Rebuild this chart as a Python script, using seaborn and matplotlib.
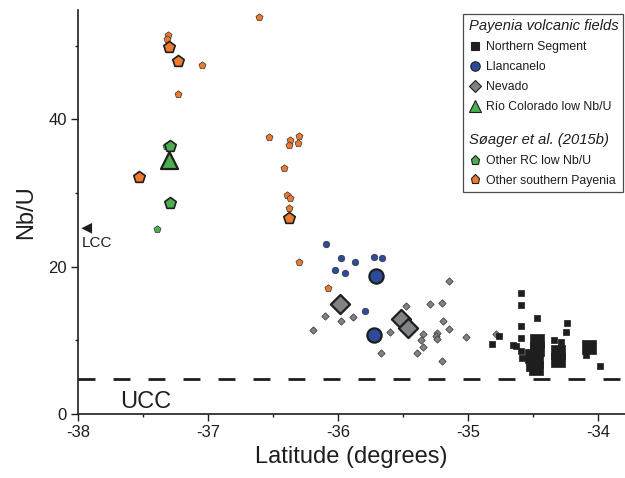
import matplotlib
matplotlib.use("Agg")
import matplotlib.pyplot as plt
import seaborn as sns
from matplotlib.lines import Line2D
from matplotlib.ticker import MultipleLocator

# ---------------- data (latitude, Nb/U) ----------------
south_small_lat = [-36.61, -37.31, -37.315, -37.05, -37.23, -36.53, -36.37, -36.30,
                   -36.38, -36.31, -36.415, -36.39, -36.37, -36.38, -36.30, -36.08]
south_small_nbu = [53.9, 51.4, 50.9, 47.4, 43.4, 37.6, 37.2, 37.7,
                   36.5, 36.8, 33.4, 29.7, 29.3, 28.0, 20.6, 17.1]
south_big_lat = [-37.30, -37.23, -37.53, -36.38]
south_big_nbu = [49.8, 47.9, 32.2, 26.6]

rc_small_lat = [-37.39, -37.325]
rc_small_nbu = [25.1, 36.4]
rc_big_lat = [-37.29, -37.29]
rc_big_nbu = [36.4, 28.6]

rio_lat = [-37.30]
rio_nbu = [34.5]

llan_small_lat = [-36.09, -35.98, -35.87, -35.72, -35.66, -36.02, -35.95, -35.79]
llan_small_nbu = [23.1, 21.2, 20.6, 21.3, 21.2, 19.5, 19.1, 14.0]
llan_big_lat = [-35.71, -35.72]
llan_big_nbu = [18.7, 10.7]

nev_small_lat = [-35.15, -35.48, -35.29, -35.20, -36.10, -35.98, -35.885, -36.19,
                 -35.19, -35.15, -35.60, -35.35, -35.24, -35.25, -35.36, -35.24,
                 -35.015, -35.35, -35.67, -35.39, -35.20, -34.785]
nev_small_nbu = [18.0, 14.7, 14.9, 15.1, 13.3, 12.6, 13.2, 11.4,
                 12.6, 11.5, 11.1, 10.9, 11.0, 10.6, 10.0, 10.2,
                 10.4, 9.1, 8.3, 8.3, 7.2, 10.9]
nev_big_lat = [-35.985, -35.515, -35.46]
nev_big_nbu = [14.9, 12.9, 11.7]

north_small_lat = [-34.59, -34.59, -34.47, -34.59, -34.24, -34.25, -34.59, -34.76,
                   -34.815, -34.34, -34.285, -34.63, -34.59, -34.585, -33.985,
                   -34.655, -34.09]
north_small_nbu = [16.4, 14.8, 13.0, 11.9, 12.3, 11.1, 10.3, 10.6,
                   9.5, 10.0, 9.8, 9.2, 8.5, 7.6, 6.5,
                   9.4, 8.0]
north_big_lat = [-34.466, -34.47, -34.51, -34.48, -34.477, -34.50,
                 -34.308, -34.308, -34.069]
north_big_nbu = [9.9, 8.8, 7.9, 7.2, 6.2, 6.8,
                 8.4, 7.3, 9.1]

ucc_nbu = 4.75
lcc_lat = [-37.933]
lcc_nbu = [25.2]

x_ticks = [-38, -37, -36, -35, -34]
y_ticks = [0, 20, 40]

ORANGE = "#EE7A2F"
GREEN = "#4BAE4F"
BLUE = "#2D4B9B"
GRAY = "#808285"
BLACK = "#1E1E1E"
EDGE = "#333333"

sns.set_theme(style="ticks")
plt.rcParams['font.family'] = ['Liberation Sans', 'DejaVu Sans']
plt.rcParams['axes.unicode_minus'] = False

fig = plt.figure(figsize=(6.25, 4.78), dpi=100)
ax = fig.add_axes([78 / 625, 64 / 478, 547 / 625, 404 / 478])

small_lw = 0.5
big_lw = 1.6

def sc(x, y, marker, s, color, ec, lw, z):
    sns.scatterplot(x=x, y=y, ax=ax, marker=marker, s=s, color=color,
                    edgecolor=ec, linewidth=lw, zorder=z, legend=False)

# small symbols
sc(south_small_lat, south_small_nbu, 'p', 28, ORANGE, EDGE, small_lw, 3)
sc(rc_small_lat, rc_small_nbu, 'p', 28, GREEN, EDGE, small_lw, 3)
sc(llan_small_lat, llan_small_nbu, 'o', 22, BLUE, EDGE, small_lw, 3)
sc(nev_small_lat, nev_small_nbu, 'D', 14, GRAY, EDGE, small_lw, 3)
sc(north_small_lat, north_small_nbu, 's', 18, BLACK, BLACK, small_lw, 3)
# big symbols
sc(south_big_lat, south_big_nbu, 'p', 75, ORANGE, BLACK, 1.2, 4)
sc(rc_big_lat, rc_big_nbu, 'p', 75, GREEN, BLACK, 1.2, 4)
sc(rio_lat, rio_nbu, '^', 150, GREEN, BLACK, big_lw, 4)
sc(llan_big_lat, llan_big_nbu, 'o', 105, BLUE, BLACK, big_lw, 4)
sc(nev_big_lat, nev_big_nbu, 'D', 95, GRAY, BLACK, big_lw, 4)
sc(north_big_lat, north_big_nbu, 's', 100, BLACK, BLACK, 0.5, 4)

# LCC / UCC references
sc(lcc_lat, lcc_nbu, '<', 60, BLACK, 'none', 0, 5)
ax.text(-37.97, 22.7, "LCC", fontsize=11, color=BLACK, ha='left', va='baseline')
ax.axhline(ucc_nbu, color=BLACK, lw=2.0, dashes=(6.1, 6.5), zorder=2)
ax.text(-37.677, 0.8, "UCC", fontsize=17, color=BLACK, ha='left', va='baseline')

# axes
ax.set_xlim(-38, -38 + 547 / 130)
ax.set_ylim(0, 404 / 7.37)
ax.set_xticks(x_ticks)
ax.set_yticks(y_ticks)
ax.xaxis.set_minor_locator(MultipleLocator(0.5))
ax.yaxis.set_minor_locator(MultipleLocator(10))
ax.tick_params(which='major', length=5, width=1.0, color=BLACK, labelsize=12, pad=3,
               labelcolor=BLACK)
ax.tick_params(which='minor', length=2.5, width=1.0, color=BLACK)
for side in ['top', 'right']:
    ax.spines[side].set_visible(False)
for side in ['left', 'bottom']:
    ax.spines[side].set_color(BLACK)
    ax.spines[side].set_linewidth(1.2)
ax.set_xlabel("Latitude (degrees)", fontsize=17, labelpad=4, color=BLACK)
ax.set_ylabel("Nb/U", fontsize=17, labelpad=8, color=BLACK)

# legend
def h(marker=None, color='none', ms=6, mec=BLACK, mew=0.8):
    if marker is None:
        return Line2D([], [], linestyle='none', marker=None)
    return Line2D([], [], linestyle='none', marker=marker, markersize=ms,
                  markerfacecolor=color, markeredgecolor=mec, markeredgewidth=mew)

handles = [h(), h('s', BLACK, 6.4), h('o', BLUE, 6.8), h('D', GRAY, 6.0),
           h('^', GREEN, 8.2), h(), h(), h('p', GREEN, 6.6), h('p', ORANGE, 6.6)]
labels = ["Payenia volcanic fields", "Northern Segment", "Llancanelo", "Nevado",
          "Río Colorado low Nb/U", "", "Søager et al. (2015b)", "Other RC low Nb/U",
          "Other southern Payenia"]
leg = ax.legend(handles, labels, loc='upper right', bbox_to_anchor=(0.997, 0.99),
                borderaxespad=0, frameon=True, fancybox=False, fontsize=8.8,
                handlelength=1.0, handletextpad=0.45, labelspacing=0.65,
                borderpad=0.42)
leg.get_frame().set_edgecolor(BLACK)
leg.get_frame().set_linewidth(0.9)
texts = leg.get_texts()
for t in texts:
    t.set_color(BLACK)
rows = leg._legend_handle_box.get_children()[0].get_children()
for i in (0, 6):
    texts[i].set_fontstyle('italic')
    texts[i].set_fontsize(10.6)
    rows[i].sep = 0
    rows[i].get_children()[0].width = 0
texts[5].set_fontsize(2)
rows[5].get_children()[0].height = 1.5

fig.savefig("out.png", dpi=100)
